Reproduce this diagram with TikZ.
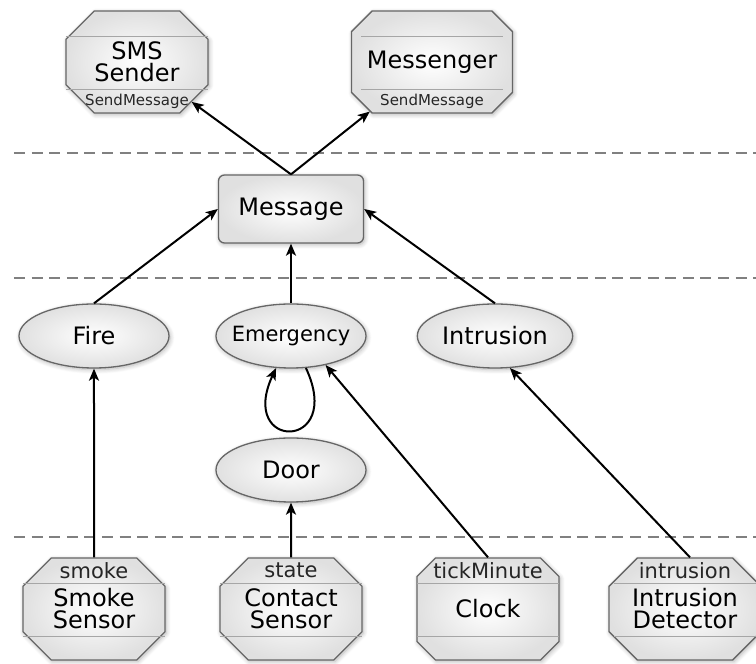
\documentclass[tikz,border=0pt]{standalone}
\usepackage{fontspec}
\setmainfont{DejaVu Sans}
\usetikzlibrary{arrows,arrows.meta,shapes.geometric,shapes.misc,shadows.blur}

\tikzset{
  shade box/.style={draw=black!60, line width=0.65pt, inner color=white, outer color=black!12,
    blur shadow={shadow blur steps=6, shadow xshift=0.6pt, shadow yshift=-0.8pt, shadow opacity=30}},
  comp/.style={shade box, chamfered rectangle, chamfered rectangle xsep=10.5pt,
    minimum width=71pt, minimum height=51pt, inner sep=1pt, align=center,
    font=\fontsize{12}{11}\selectfont},
  msg/.style={shade box, rectangle, rounded corners=3pt, minimum width=72.5pt, minimum height=34pt,
    font=\fontsize{12}{13}\selectfont},
  oval/.style={shade box, ellipse, minimum width=75pt, minimum height=32pt, inner sep=1pt,
    font=\fontsize{12}{13}\selectfont},
  port/.style={inner sep=0pt, text=black!85, font=\fontsize{10.5}{11}\selectfont},
  divider/.style={draw=black!35, line width=0.5pt},
  layer/.style={draw=black!50, line width=0.8pt, dash pattern=on 5.5pt off 3.3pt}
}

\begin{document}
\begin{tikzpicture}[x=1pt,y=1pt,->,>={Stealth[length=6pt,width=5pt,inset=1.5pt]},line width=1pt,node distance=98.5pt]

	\useasboundingbox (-47,-27.5) rectangle (331,304.5);

	% layers
	\draw[layer,-] (-40,228) -- (331,228);
	\draw[layer,-] (-40,165.5) -- (331,165.5);
	\draw[layer,-] (-40,36) -- (331,36);

	\node[comp] (smoke)                          {Smoke\\Sensor};
	\node[comp] (contact)  [right of=smoke]      {Contact\\Sensor};
	\node[comp] (clock)    [right of=contact]    {Clock};
	\node[comp] (detector) [right of=clock]      {Intrusion\\Detector};
	\node[oval] (door)     [above of=contact, node distance=69.5pt] {Door};
	\node[oval] (emergency)[above of=door, node distance=67pt, font=\fontsize{10.5}{11}\selectfont] {\makebox[50pt]{Emergency}};
	\node[oval] (fire)     [left of=emergency]   {Fire};
	\node[oval] (intrusion)[right of=emergency, node distance=102pt] {Intrusion};
	\node[msg]  (message)  [above of=emergency, node distance=63.5pt] {Message};
	\node[comp] (sms)      [above of=message, node distance=73.5pt, xshift=-77pt] {SMS\\Sender};
	\node[comp] (messenger)[above of=message, node distance=73.5pt, xshift=70.5pt] {Messenger};

	% compartments
	\foreach \n in {sms,messenger,smoke,contact,clock,detector}{
		\draw[divider,-] ([xshift=-35.5pt,yshift=-13pt]\n.north) -- ([xshift=35.5pt,yshift=-13pt]\n.north);
		\draw[divider,-] ([xshift=-35.5pt,yshift=12pt]\n.south) -- ([xshift=35.5pt,yshift=12pt]\n.south);
	}
	\node[port,font=\fontsize{7.5}{8}\selectfont] (sms-out) at ([yshift=6.2pt]sms.south) {SendMessage};
	\node[port,font=\fontsize{7.5}{8}\selectfont] (messenger-out) at ([yshift=6.2pt]messenger.south) {SendMessage};
	\node[port] (smoke-out)    at ([yshift=-6.5pt]smoke.north)    {smoke};
	\node[port] (contact-out)  at ([yshift=-6.5pt]contact.north)  {state};
	\node[port] (clock-out)    at ([yshift=-6.5pt]clock.north)    {tickMinute};
	\node[port] (detector-out) at ([yshift=-6.5pt]detector.north) {intrusion};

	\path (message.north)   edge (sms)
	      (message.north)   edge (messenger)
	      (fire.north)      edge (message.west)
	      (emergency)       edge (message)
	                        edge [loop below, out=-65, in=-115, min distance=46pt] (emergency)
	      (intrusion.north) edge (message.east)
	      (smoke)           edge (fire)
	      (contact)         edge (door)
	      (clock.north)     edge (emergency.-40)
	      ([xshift=2.5pt]detector.north) edge (intrusion.-65);

\end{tikzpicture}
\end{document}
